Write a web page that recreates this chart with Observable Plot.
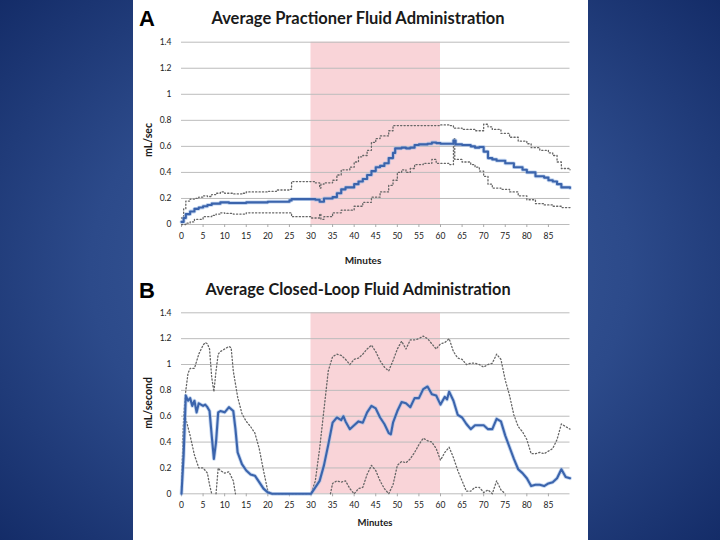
<!DOCTYPE html>
<html><head><meta charset="utf-8">
<script src="https://cdn.jsdelivr.net/npm/d3@7"></script>
<script src="https://cdn.jsdelivr.net/npm/@observablehq/plot@0.6"></script>
<style>
html,body{margin:0;padding:0;width:720px;height:540px;overflow:hidden;}
body{background:radial-gradient(ellipse 75% 80% at 50% 50%, #40609f 0%, #2c4a8a 50%, #0f2661 100%);}
#panel{position:absolute;left:133px;top:0;width:455px;height:540px;background:#fff;}
.lbl{position:absolute;font-family:Lato,"Noto Sans",sans-serif;font-weight:bold;color:#1a1a1a;white-space:nowrap;transform:translate(-50%,-50%);line-height:1;}
.big{font-family:"Liberation Sans",Arial,sans-serif;font-size:22px;color:#000;}
.chart{position:absolute;left:0;}
</style></head>
<body>
<div id="panel">
  <div class="lbl big" style="left:14px;top:19px;">A</div>
  <div class="lbl" style="left:225px;top:18px;font-size:16.5px;">Average Practioner Fluid Administration</div>
  <div class="lbl" style="left:15px;top:140px;font-size:10.5px;transform:translate(-50%,-50%) rotate(-90deg);">mL/sec</div>
  <div class="lbl" style="left:230px;top:260px;font-size:10px;">Minutes</div>
  <div id="chartA" class="chart" style="top:0;"></div>

  <div class="lbl big" style="left:14px;top:291px;">B</div>
  <div class="lbl" style="left:225px;top:289px;font-size:16.3px;">Average Closed-Loop Fluid Administration</div>
  <div class="lbl" style="left:15px;top:403px;font-size:10.5px;transform:translate(-50%,-50%) rotate(-90deg);">mL/second</div>
  <div class="lbl" style="left:242px;top:523px;font-size:9.5px;">Minutes</div>
  <div id="chartB" class="chart" style="top:270px;"></div>
</div>
<script>
const xTicks = [0,5,10,15,20,25,30,35,40,45,50,55,60,65,70,75,80,85];
const yTicks = [0,0.2,0.4,0.6,0.8,1,1.2,1.4];
const band = [{start:30, end:60}];

// Panel A: [minute, mL/sec]
const aMean = [[0,0.02],[0.5,0.05],[1,0.08],[2,0.10],[3,0.12],[4,0.13],[5,0.14],[6,0.15],[7,0.16],[9,0.17],[10,0.17],[11,0.165],[15,0.17],[20,0.175],[25,0.185],[25.5,0.195],[30,0.195],[31,0.19],[32,0.175],[33,0.20],[35,0.21],[36,0.24],[37,0.27],[38,0.285],[40,0.31],[41,0.33],[42,0.35],[43,0.38],[44,0.41],[45,0.44],[46,0.45],[47,0.47],[48,0.51],[49,0.55],[49.5,0.585],[51,0.59],[52,0.585],[53,0.59],[54,0.61],[55,0.615],[57,0.62],[58,0.63],[59,0.625],[60,0.62],[62,0.62],[63,0.645],[63.5,0.615],[65,0.61],[67,0.60],[68,0.59],[69,0.595],[70,0.56],[71,0.51],[72,0.50],[73,0.49],[75,0.47],[77,0.44],[79,0.42],[80,0.40],[82,0.37],[84,0.36],[85,0.34],[86,0.33],[87,0.31],[88,0.285],[90,0.28]];
const aUpper = [[0,0.05],[0.5,0.12],[1,0.18],[2,0.195],[3,0.20],[4,0.21],[5,0.22],[6,0.215],[7,0.23],[8,0.24],[9,0.25],[10,0.24],[12,0.235],[14,0.24],[15,0.25],[20,0.255],[22,0.265],[25,0.27],[25.5,0.33],[30,0.33],[31,0.32],[32,0.28],[32.3,0.31],[33,0.32],[35,0.34],[36,0.38],[37,0.42],[39,0.44],[40,0.48],[41,0.52],[42,0.53],[43,0.57],[44,0.63],[45,0.66],[46,0.68],[48,0.72],[49,0.76],[50,0.76],[55,0.76],[60,0.765],[62,0.76],[63,0.74],[65,0.73],[67,0.73],[68,0.72],[70,0.77],[71,0.75],[72,0.73],[74,0.70],[76,0.67],[78,0.64],[80,0.62],[81,0.59],[83,0.57],[85,0.55],[86,0.53],[87,0.48],[88,0.43],[90,0.42]];
const aLower = [[0,0],[1,0.01],[2,0.02],[3,0.04],[5,0.06],[7,0.07],[8,0.08],[9,0.09],[10,0.085],[12,0.08],[15,0.09],[20,0.09],[25,0.09],[25.5,0.06],[30,0.05],[31,0.05],[32,0.08],[32.3,0.04],[33,0.06],[35,0.09],[37,0.11],[40,0.14],[42,0.17],[44,0.21],[46,0.25],[48,0.30],[49,0.34],[50,0.40],[51,0.42],[52,0.40],[53,0.43],[54,0.46],[56,0.47],[58,0.50],[59,0.47],[60,0.47],[62,0.46],[63,0.66],[63.3,0.50],[65,0.48],[67,0.46],[68,0.44],[69,0.41],[70,0.37],[71,0.31],[72,0.28],[74,0.27],[76,0.25],[78,0.22],[80,0.19],[82,0.16],[84,0.15],[86,0.14],[88,0.13],[90,0.13]];

// Panel B: [minute, mL/second]
const bMean = [[0,0],[0.5,0.3],[1,0.76],[1.5,0.72],[2,0.74],[2.5,0.68],[3,0.72],[3.5,0.63],[4,0.70],[5,0.68],[5.5,0.69],[6,0.67],[6.5,0.64],[7,0.45],[7.5,0.27],[8,0.40],[8.5,0.63],[9,0.64],[10,0.63],[11,0.67],[12,0.64],[12.5,0.50],[13,0.32],[14,0.23],[15,0.18],[16,0.15],[17,0.14],[18,0.09],[19,0.04],[20,0.01],[21,0],[30,0],[31,0.05],[32,0.10],[33,0.22],[34,0.38],[35,0.55],[36,0.59],[37,0.57],[37.5,0.60],[38,0.56],[39,0.50],[40,0.53],[41,0.56],[42,0.55],[43,0.63],[44,0.68],[45,0.66],[46,0.59],[47,0.54],[48,0.47],[48.5,0.46],[49,0.55],[50,0.64],[51,0.71],[52,0.70],[53,0.67],[54,0.74],[55,0.74],[56,0.81],[57,0.83],[58,0.77],[59,0.76],[60,0.69],[61,0.75],[61.5,0.73],[62,0.79],[63,0.72],[64,0.61],[65,0.59],[66,0.54],[67,0.50],[68,0.53],[70,0.53],[71,0.50],[72,0.50],[73,0.58],[74,0.56],[75,0.45],[76,0.36],[77,0.27],[78,0.19],[79,0.16],[80,0.12],[81,0.06],[82,0.07],[83,0.07],[84,0.06],[85,0.08],[86,0.09],[87,0.12],[88,0.19],[89,0.13],[90,0.12]];
const bUpper = [[0,0.05],[0.5,0.6],[1,0.8],[1.5,0.93],[2,0.97],[3,0.97],[4,1.08],[5,1.15],[5.5,1.17],[6,1.16],[6.5,1.12],[7,0.90],[7.5,0.79],[8,0.95],[8.5,1.08],[9,1.10],[10,1.12],[11,1.14],[11.5,1.13],[12,0.95],[13,0.75],[14,0.62],[15,0.56],[16,0.52],[17,0.47],[18,0.35],[19,0.18],[20,0.02],[21,0],[30,0],[31,0.10],[32,0.35],[33,0.65],[34,0.95],[35,1.06],[36,1.08],[37,1.07],[38,1.04],[39,1.00],[40,1.04],[41,1.05],[42,1.08],[43,1.12],[44,1.15],[45,1.10],[46,1.03],[47,0.98],[48,0.95],[49,1.03],[50,1.12],[51,1.18],[52,1.12],[53,1.19],[54,1.19],[55,1.20],[56,1.22],[57,1.20],[58,1.16],[59,1.12],[60,1.16],[61,1.17],[62,1.20],[63,1.10],[64,1.05],[65,1.04],[66,1.00],[67,1.01],[68,1.01],[69,1.00],[70,0.98],[71,1.00],[72,1.01],[73,1.08],[74,1.04],[75,0.88],[76,0.76],[77,0.61],[78,0.52],[79,0.48],[80,0.42],[81,0.31],[82,0.31],[83,0.32],[84,0.31],[85,0.33],[86,0.35],[87,0.42],[88,0.54],[89,0.52],[90,0.50]];
const bLower = [[0,0],[0.5,0.55],[1,0.58],[2,0.45],[3,0.30],[4,0.20],[5,0.20],[6,0.16],[6.5,0.07],[7,0],[7.5,null],[8,0],[8.5,0.20],[9,0.18],[10,0.16],[11,0.17],[12,0.10],[12.5,0],[13,null],[34,null],[34.5,0],[35,0.08],[36,0.10],[37,0.09],[38,0.10],[39,0.04],[40,0],[41,0.04],[42,0.05],[43,0.15],[44,0.22],[45,0.18],[46,0.10],[47,0.04],[48,0],[49,0.07],[50,0.22],[51,0.25],[52,0.24],[53,0.27],[54,0.32],[55,0.38],[56,0.43],[57,0.41],[58,0.40],[59,0.35],[60,0.26],[61,0.32],[62,0.36],[63,0.28],[64,0.18],[65,0.10],[66,0.02],[67,0.02],[68,0.05],[69,0.05],[70,0.01],[71,0.03],[72,0],[73,0.10],[74,0.03],[75,0],[75.5,null]];

const fmt = d => String(+d.toFixed(1));
const X = d => d[0], Y = d => d[1];

function chart(mean, upper, lower, mt, mb, curve) {
  const dots = {x: X, y: Y, stroke: "#666", strokeWidth: 1.3, strokeDasharray: "1.2,2.2", curve};
  return Plot.plot({
    width: 455, height: 270,
    marginLeft: 48, marginRight: 18.5, marginTop: mt, marginBottom: mb,
    x: {domain: [0, 90]},
    y: {domain: [0, 1.4]},
    style: {fontFamily: "Lato, 'Noto Sans', sans-serif", fontSize: "8.5px", background: "transparent", overflow: "visible"},
    marks: [
      Plot.rect(band, {x1: "start", x2: "end", y1: 0, y2: 1.4, fill: "#f9d4d8"}),
      Plot.gridY(yTicks, {stroke: "#bcbcbc", strokeOpacity: 1, strokeWidth: 1}),
      Plot.axisX(xTicks, {tickSize: 3, tickPadding: 5, stroke: "#aaa", fill: "#222", label: null, tickFormat: d => String(d)}),
      Plot.axisY(yTicks, {tickSize: 0, tickPadding: 10, fill: "#222", label: null, tickFormat: fmt}),
      Plot.line(upper, dots),
      Plot.line(lower, dots),
      Plot.line(mean, {x: X, y: Y, stroke: "#9dbbe6", strokeWidth: 3.8, strokeOpacity: 0.6, curve}),
      Plot.line(mean, {x: X, y: Y, stroke: "#3b64ac", strokeWidth: 2.1, curve})
    ]
  });
}

document.getElementById("chartA").append(chart(aMean, aUpper, aLower, 41.7, 46, "step-after"));
document.getElementById("chartB").append(chart(bMean, bUpper, bLower, 42.3, 46.7, "linear"));
</script>
</body></html>
